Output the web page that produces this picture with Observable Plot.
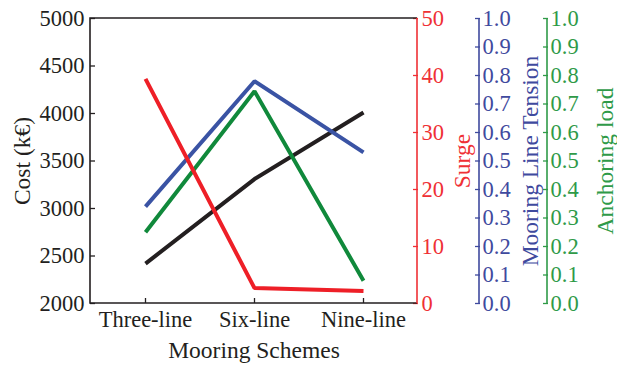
<!DOCTYPE html>
<html>
<head>
<meta charset="utf-8">
<script src="https://cdn.jsdelivr.net/npm/d3@7"></script>
<script src="https://cdn.jsdelivr.net/npm/@observablehq/plot@0.6"></script>
<style>
  html, body { margin: 0; padding: 0; background: #fff; }
  #chart svg { display: block; }
</style>
</head>
<body>
<div id="chart"></div>
<script>
// ---- data ----
const schemes = ["Three-line", "Six-line", "Nine-line"];
const cost = [2420, 3310, 4010];          // k€ (left axis)
const surge = [39.4, 2.7, 2.2];           // right axis 1 (0–50)
const tension = [0.34, 0.78, 0.53];       // right axis 2 (0–1)
const anchoring = [0.25, 0.745, 0.08];    // right axis 3 (0–1)
const costTicks = [2000, 2500, 3000, 3500, 4000, 4500, 5000];
const surgeTicks = [0, 10, 20, 30, 40, 50];
const unitTicks = [0, 0.1, 0.2, 0.3, 0.4, 0.5, 0.6, 0.7, 0.8, 0.9, 1.0];

// map secondary axes into the cost scale domain [2000, 5000]
const fromSurge = v => 2000 + v * 60;
const fromUnit = v => 2000 + v * 3000;

const series = [
  {name: "Cost", color: "#231f20", vals: cost},
  {name: "Tension", color: "#3a53a4", vals: tension.map(fromUnit)},
  {name: "Anchoring", color: "#10893b", vals: anchoring.map(fromUnit)},
  {name: "Surge", color: "#ee1f27", vals: surge.map(fromSurge)}
];
const rows = series.flatMap(s => schemes.map((c, i) => ({series: s.name, color: s.color, scheme: c, v: s.vals[i]})));

const FONT = "'Liberation Serif', 'Times New Roman', serif";
const FS = 22.5;   // tick labels
const TS = 23.5;   // axis titles
const RED = "#ef3035", BLUE = "#3f4a9e", GREEN = "#2f9a48";
const OFF_BLUE = 62, OFF_GREEN = 130;

// axis lines for the extra right axes, placed relative to the frame
function axisLine(offset, color) {
  return (index, scales, values, dims) => {
    const x = dims.width - dims.marginRight + offset;
    const g = d3.create("svg:g");
    g.append("line")
      .attr("x1", x).attr("x2", x)
      .attr("y1", dims.marginTop).attr("y2", dims.height - dims.marginBottom)
      .attr("stroke", color).attr("stroke-width", 1.6);
    return g.node();
  };
}
function frameLines() {
  return (index, scales, values, dims) => {
    const l = dims.marginLeft, r = dims.width - dims.marginRight;
    const t = dims.marginTop, b = dims.height - dims.marginBottom;
    const g = d3.create("svg:g").attr("fill", "none").attr("stroke-width", 1.6);
    g.append("path").attr("d", `M${r},${t}H${l}V${b}H${r}`).attr("stroke", "#231f20");
    g.append("line").attr("x1", r).attr("x2", r).attr("y1", t).attr("y2", b).attr("stroke", RED);
    return g.node();
  };
}

const chart = Plot.plot({
  width: 617,
  height: 369,
  marginTop: 18,
  marginBottom: 66,
  marginLeft: 90,
  marginRight: 200,
  style: {fontFamily: FONT, fontSize: FS + "px", background: "#fff"},
  x: {type: "point", domain: schemes, padding: 0.5, axis: null},
  y: {domain: [2000, 5000], axis: null},
  marks: [
    // left axis (cost)
    Plot.axisY(costTicks, {anchor: "left", tickSize: -5, fill: "none", stroke: "#231f20", strokeWidth: 1.3, label: null}),
    Plot.axisY(costTicks, {anchor: "left", tickSize: 0, tickPadding: 6, fill: "#231f20", stroke: "none", fontSize: FS, label: null,
      tickFormat: d => String(d)}),
    // bottom axis
    Plot.axisX(schemes, {anchor: "bottom", tickSize: -5, fill: "none", stroke: "#231f20", strokeWidth: 1.3, label: null}),
    Plot.axisX(schemes, {anchor: "bottom", tickSize: 0, tickPadding: 8, fill: "#231f20", stroke: "none", fontSize: FS, label: null}),
    // surge axis (red, at the frame's right edge)
    Plot.axisY(surgeTicks.map(fromSurge), {anchor: "right", tickSize: -5, fill: "none", stroke: RED, strokeWidth: 1.3, label: null}),
    Plot.axisY(surgeTicks.map(fromSurge), {anchor: "right", tickSize: 0, tickPadding: 4, fill: RED, stroke: "none", fontSize: FS, label: null,
      tickFormat: d => String(Math.round((d - 2000) / 60))}),
    // tension axis (blue)
    axisLine(OFF_BLUE, BLUE),
    Plot.axisY(unitTicks.map(fromUnit), {anchor: "right", dx: OFF_BLUE, tickSize: -5, fill: "none", stroke: BLUE, strokeWidth: 1.3, label: null}),
    Plot.axisY(unitTicks.map(fromUnit), {anchor: "right", dx: OFF_BLUE, tickSize: 0, tickPadding: 3, fill: BLUE, stroke: "none", fontSize: FS, label: null,
      tickFormat: d => ((d - 2000) / 3000).toFixed(1)}),
    // anchoring axis (green)
    axisLine(OFF_GREEN, GREEN),
    Plot.axisY(unitTicks.map(fromUnit), {anchor: "right", dx: OFF_GREEN, tickSize: -5, fill: "none", stroke: GREEN, strokeWidth: 1.3, label: null}),
    Plot.axisY(unitTicks.map(fromUnit), {anchor: "right", dx: OFF_GREEN, tickSize: 0, tickPadding: 3, fill: GREEN, stroke: "none", fontSize: FS, label: null,
      tickFormat: d => ((d - 2000) / 3000).toFixed(1)}),
    frameLines(),
    // data lines
    Plot.line(rows, {x: "scheme", y: "v", z: "series", stroke: "color", strokeWidth: 4, strokeLinejoin: "miter", strokeLinecap: "butt"}),
    // axis titles
    Plot.text(["Cost (k€)"], {frameAnchor: "left", textAnchor: "middle", dx: -68, rotate: -90, fill: "#231f20", fontSize: TS}),
    Plot.text(["Surge"], {frameAnchor: "right", textAnchor: "middle", dx: 45, rotate: -90, fill: RED, fontSize: TS}),
    Plot.text(["Mooring Line Tension"], {frameAnchor: "right", textAnchor: "middle", dx: 113, rotate: -90, fill: BLUE, fontSize: TS}),
    Plot.text(["Anchoring load"], {frameAnchor: "right", textAnchor: "middle", dx: 188, rotate: -90, fill: GREEN, fontSize: TS}),
    Plot.text(["Mooring Schemes"], {frameAnchor: "bottom", dy: 54, fill: "#231f20", fontSize: TS})
  ]
});
document.getElementById("chart").appendChild(chart);
</script>
</body>
</html>
